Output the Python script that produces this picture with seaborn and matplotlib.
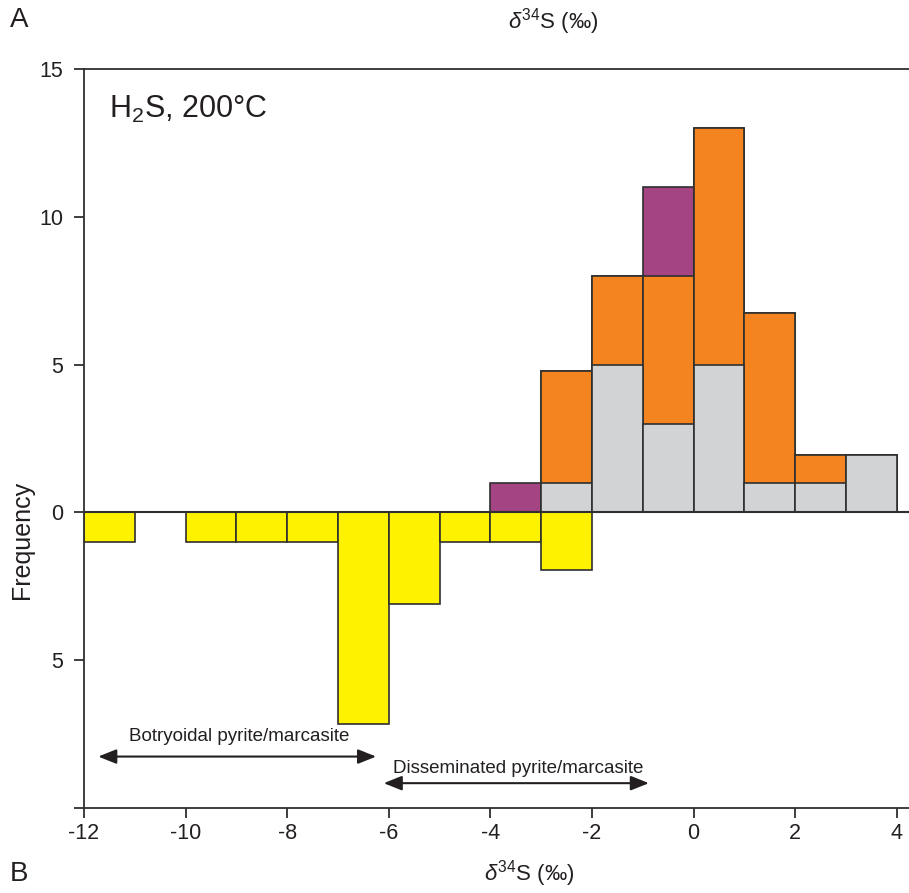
import numpy as np
import pandas as pd
import matplotlib
matplotlib.use("Agg")
import matplotlib.pyplot as plt
import seaborn as sns

# ---------------- data ----------------
# positive side (bins of 1 permil, centres)
pos_centers = [-3.5, -2.5, -1.5, -0.5, 0.5, 1.5, 2.5, 3.5]
grey_counts = [0, 1, 5, 3, 5, 1, 1, 1.95]
orange_counts = [0, 3.8, 3, 5, 8, 5.75, 0.95, 0]
purple_counts = [1, 0, 0, 3, 0, 0, 0, 0]
# negative side (yellow, plotted downward)
neg_centers = [-11.5, -10.5, -9.5, -8.5, -7.5, -6.5, -5.5, -4.5, -3.5, -2.5]
yellow_counts = [1, 0, 1, 1, 1, 7.15, 3.1, 1, 1, 1.95]

xtick_vals = [-12, -10, -8, -6, -4, -2, 0, 2, 4]
ytick_vals = [-10, -5, 0, 5, 10, 15]
ytick_labels = ["", "5", "0", "5", "10", "15"]

GREY = "#D1D3D4"
ORANGE = "#F48420"
PURPLE = "#A54483"
YELLOW = "#FFF200"
EDGE = "#2f2f2f"
TXT = "#231f20"

sns.set_theme(style="ticks")
plt.rcParams["font.family"] = ["Liberation Sans", "DejaVu Sans"]
plt.rcParams["mathtext.fontset"] = "custom"
plt.rcParams["mathtext.rm"] = "Liberation Sans"
plt.rcParams["mathtext.it"] = "Liberation Sans:italic"
plt.rcParams["mathtext.bf"] = "Liberation Sans:bold"

fig = plt.figure(figsize=(9.09, 8.93), dpi=100)
W, H = 909, 893
ax = fig.add_axes([84 / W, 1 - 808 / H, 1 - 84 / W, (808 - 69) / H])

df = pd.DataFrame({"x": pos_centers, "grey": grey_counts,
                   "orange": orange_counts, "purple": purple_counts})
df["lvl2"] = df["grey"] + df["orange"]
df["lvl3"] = df["lvl2"] + df["purple"]

common = dict(native_scale=True, width=1, saturation=1, edgecolor=EDGE,
              linewidth=1.2, errorbar=None, ax=ax)
sns.barplot(data=df, x="x", y="lvl3", color=PURPLE, **common)
sns.barplot(data=df, x="x", y="lvl2", color=ORANGE, **common)
sns.barplot(data=df, x="x", y="grey", color=GREY, **common)

dneg = pd.DataFrame({"x": neg_centers, "y": [-v for v in yellow_counts]})
sns.barplot(data=dneg, x="x", y="y", color=YELLOW, **common)

ax.axhline(0, color=EDGE, lw=1.5, zorder=5)

ax.set_xlim(-12, 4.24)
ax.set_ylim(-10, 15)
ax.set_xticks(xtick_vals)
ax.set_xticklabels([str(v) for v in xtick_vals])
ax.set_yticks(ytick_vals)
ax.set_yticklabels(ytick_labels)
ax.set_xlabel("")
ax.set_ylabel("")
ax.tick_params(axis="both", direction="out", length=7, width=1.3,
               colors=EDGE, labelcolor=TXT, labelsize=15.5)
ax.tick_params(axis="x", pad=4)
ax.tick_params(axis="y", pad=8)
for s in ["left", "top", "bottom"]:
    ax.spines[s].set_visible(True)
    ax.spines[s].set_color(EDGE)
    ax.spines[s].set_linewidth(1.3)
ax.spines["right"].set_visible(False)

# arrows and annotations
arrow_kw = dict(arrowstyle="<|-|>,head_length=0.55,head_width=0.22", color=TXT,
                lw=1.5, mutation_scale=20, shrinkA=0, shrinkB=0)
ax.annotate("", xy=(-11.72, -8.26), xytext=(-6.25, -8.26), arrowprops=arrow_kw)
ax.annotate("", xy=(-6.1, -9.16), xytext=(-0.88, -9.16), arrowprops=arrow_kw)
ax.text(-8.95, -7.57, "Botryoidal pyrite/marcasite", ha="center", va="center",
        fontsize=13.5, color=TXT)
ax.text(-3.46, -8.65, "Disseminated pyrite/marcasite", ha="center", va="center",
        fontsize=13.5, color=TXT)

ax.text(0.03, 0.945, r"H$_2$S, 200°C", transform=ax.transAxes, ha="left",
        va="center", fontsize=22, color=TXT)

fig.text(22 / W, 1 - 540 / H, "Frequency", rotation=90, ha="center",
         va="center", fontsize=18, color=TXT)
fig.text(553 / W, 1 - 22 / H, r"$\delta^{34}$S (‰)", ha="center",
         va="center", fontsize=16, color=TXT)
fig.text(529 / W, 1 - 874 / H, r"$\delta^{34}$S (‰)", ha="center",
         va="center", fontsize=16, color=TXT)
fig.text(10 / W, 1 - 20 / H, "A", ha="left", va="center", fontsize=20, color=TXT)
fig.text(10 / W, 1 - 874 / H, "B", ha="left", va="center", fontsize=20, color=TXT)

fig.savefig("out.png", dpi=100)
